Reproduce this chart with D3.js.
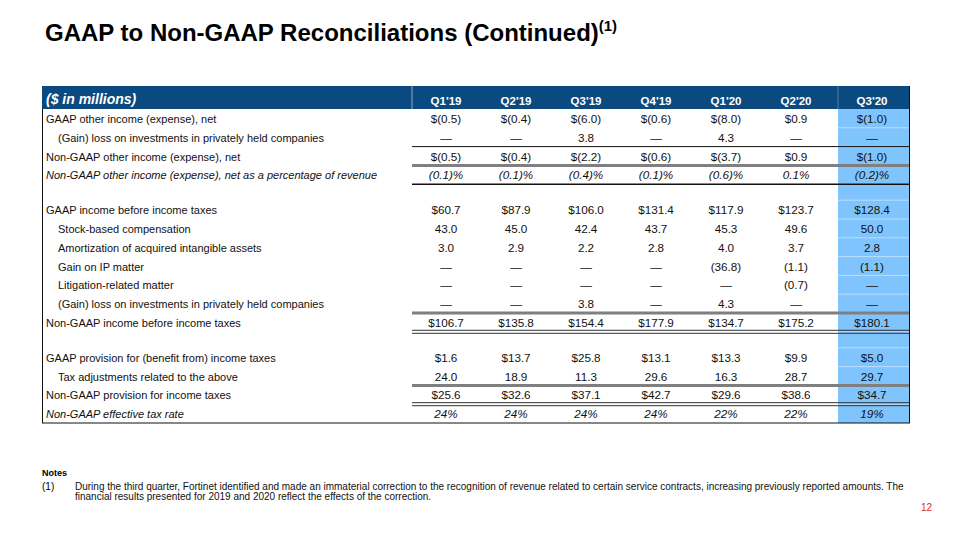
<!DOCTYPE html>
<html>
<head>
<meta charset="utf-8">
<script src="https://cdn.jsdelivr.net/npm/d3@7"></script>
<style>
  html, body { margin: 0; padding: 0; background: #fff; }
  svg { display: block; font-family: "Liberation Sans", Arial, sans-serif; }
</style>
</head>
<body>
<svg id="chart" width="960" height="540"></svg>
<script>
// ---------------- DATA ----------------
const quarters = ["Q1'19", "Q2'19", "Q3'19", "Q4'19", "Q1'20", "Q2'20", "Q3'20"];

const gaapOtherIncome     = [-0.5, -0.4, -6.0, -0.6, -8.0, 0.9, -1.0];
const privInvestments1    = [null, null, 3.8, null, 4.3, null, null];
const nonGaapOtherIncome  = [-0.5, -0.4, -2.2, -0.6, -3.7, 0.9, -1.0];
const otherIncomePctRev   = [-0.1, -0.1, -0.4, -0.1, -0.6, 0.1, -0.2];

const gaapIncomeBeforeTax = [60.7, 87.9, 106.0, 131.4, 117.9, 123.7, 128.4];
const stockComp           = [43.0, 45.0, 42.4, 43.7, 45.3, 49.6, 50.0];
const amortization        = [3.0, 2.9, 2.2, 2.8, 4.0, 3.7, 2.8];
const gainOnIP            = [null, null, null, null, -36.8, -1.1, -1.1];
const litigation          = [null, null, null, null, null, -0.7, null];
const privInvestments2    = [null, null, 3.8, null, 4.3, null, null];
const nonGaapIncomeBeforeTax = [106.7, 135.8, 154.4, 177.9, 134.7, 175.2, 180.1];

const gaapTaxProvision    = [1.6, 13.7, 25.8, 13.1, 13.3, 9.9, 5.0];
const taxAdjustments      = [24.0, 18.9, 11.3, 29.6, 16.3, 28.7, 29.7];
const nonGaapTaxProvision = [25.6, 32.6, 37.1, 42.7, 29.6, 38.6, 34.7];
const effectiveTaxRate    = [24, 24, 24, 24, 22, 22, 19];

const rowLabels = [
  "GAAP other income (expense), net",
  "(Gain) loss on investments in privately held companies",
  "Non-GAAP other income (expense), net",
  "Non-GAAP other income (expense), net as a percentage of revenue",
  "",
  "GAAP income before income taxes",
  "Stock-based compensation",
  "Amortization of acquired intangible assets",
  "Gain on IP matter",
  "Litigation-related matter",
  "(Gain) loss on investments in privately held companies",
  "Non-GAAP income before income taxes",
  "",
  "GAAP provision for (benefit from) income taxes",
  "Tax adjustments related to the above",
  "Non-GAAP provision for income taxes",
  "Non-GAAP effective tax rate"
];
const rowValues = [
  gaapOtherIncome, privInvestments1, nonGaapOtherIncome, otherIncomePctRev, null,
  gaapIncomeBeforeTax, stockComp, amortization, gainOnIP, litigation, privInvestments2, nonGaapIncomeBeforeTax, null,
  gaapTaxProvision, taxAdjustments, nonGaapTaxProvision, effectiveTaxRate
];
// formats: d = dollar, n = number, p = percent(1 dp), r = percent integer
const rowFormats = ["d","n","d","p",null,"d","n","n","n","n","n","d",null,"d","n","d","r"];
const rowIndent  = [0,1,0,0,0,0,1,1,1,1,1,0,0,0,1,0,0];
const rowItalic  = [0,0,0,1,0,0,0,0,0,0,0,0,0,0,0,0,1];
// rule below row: thin, gray, black, double
const rowRuleBelow = [null,"thin","gray","black",null,null,null,null,null,null,"gray","double",null,null,"gray","double",null];

const titleText = "GAAP to Non-GAAP Reconciliations (Continued)";
const unitsLabel = "($ in millions)";
const noteHeading = "Notes";
const noteMarker = "(1)";
const noteLines = [
  "During the third quarter, Fortinet identified and made an immaterial correction to the recognition of revenue related to certain service contracts, increasing previously reported amounts. The",
  "financial results presented for 2019 and 2020 reflect the effects of the correction."
];
const pageNumber = "12";

// ---------------- FORMAT ----------------
function fmt(v, f) {
  if (v == null) return "\u2014";
  if (f === "r") return v + "%";
  const a = Math.abs(v).toFixed(1);
  const core = v < 0 ? "(" + a + ")" : a;
  if (f === "d") return "$" + core;
  if (f === "p") return core + "%";
  return core;
}

// ---------------- LAYOUT ----------------
const svg = d3.select("#chart");
const navy = "#0b4a80", hiBlue = "#80c4fd";
const tableLeft = 42, tableRight = 910, labelRight = 412, hiLeft = 838;
const headerTop = 86, headerBottom = 109;
const rowH = 18.8, blankH = 16;

// row y-positions from cumulative heights
const rowTops = [];
let yy = headerBottom;
rowLabels.forEach((l, i) => { rowTops.push(yy); yy += rowValues[i] ? rowH : blankH; });
const tableBottom = yy;
const rowHeight = i => rowValues[i] ? rowH : blankH;

// column scale
const x = d3.scaleBand().domain(quarters.slice(0, 6)).range([411, 831]);
const colCenter = q => q === "Q3'20" ? 872 : x(q) + x.bandwidth() / 2;

// Title
const title = svg.append("text").attr("x", 45).attr("y", 41)
  .attr("font-size", 24).attr("font-weight", "bold").attr("fill", "#000");
title.append("tspan").text(titleText);
title.append("tspan").attr("font-size", 15).attr("dy", -10).text("(1)");

// Header
svg.append("rect").attr("x", tableLeft).attr("y", headerTop)
  .attr("width", tableRight - tableLeft).attr("height", headerBottom - headerTop).attr("fill", navy);
svg.append("line").attr("x1", labelRight).attr("x2", labelRight).attr("y1", headerTop).attr("y2", headerBottom)
  .attr("stroke", "#8fa9c4").attr("stroke-width", 1);
svg.append("line").attr("x1", hiLeft).attr("x2", hiLeft).attr("y1", headerTop).attr("y2", headerBottom)
  .attr("stroke", "#4d7aa6").attr("stroke-width", 1);
svg.append("text").attr("x", 46).attr("y", headerTop + 18)
  .attr("font-size", 14).attr("font-weight", "bold").attr("font-style", "italic").attr("fill", "#fff")
  .text(unitsLabel);
svg.selectAll("text.qh").data(quarters).join("text").attr("class", "qh")
  .attr("x", d => colCenter(d)).attr("y", headerTop + 18.5)
  .attr("text-anchor", "middle").attr("font-size", 11.5).attr("font-weight", "bold").attr("fill", "#fff")
  .text(d => d);

// Highlight column
svg.append("rect").attr("x", hiLeft).attr("y", headerBottom)
  .attr("width", tableRight - hiLeft).attr("height", tableBottom - headerBottom).attr("fill", hiBlue);
svg.selectAll("line.hisep").data(rowTops.slice(1)).join("line").attr("class", "hisep")
  .attr("x1", hiLeft).attr("x2", tableRight).attr("y1", d => d).attr("y2", d => d)
  .attr("stroke", "#ffffff").attr("stroke-opacity", 0.45).attr("stroke-width", 1);

// Row labels
rowLabels.forEach((lab, i) => {
  if (!lab) return;
  svg.append("text").attr("x", rowIndent[i] ? 58 : 46).attr("y", rowTops[i] + rowH / 2 + 4.5)
    .attr("font-size", 11).attr("fill", "#111")
    .attr("font-style", rowItalic[i] ? "italic" : "normal")
    .text(lab);
});

// Values
rowValues.forEach((vals, i) => {
  if (!vals) return;
  svg.selectAll("text.v" + i).data(vals).join("text").attr("class", "v" + i)
    .attr("x", (d, j) => colCenter(quarters[j])).attr("y", rowTops[i] + rowH / 2 + 4.5)
    .attr("text-anchor", "middle").attr("font-size", 11.7).attr("fill", "#111")
    .attr("font-style", rowItalic[i] ? "italic" : "normal")
    .text(d => fmt(d, rowFormats[i]));
});

// Rules
rowRuleBelow.forEach((r, i) => {
  if (!r) return;
  const y = rowTops[i] + rowHeight(i);
  const g = svg.append("g");
  if (r === "thin") {
    g.append("line").attr("x1", labelRight).attr("x2", tableRight).attr("y1", y).attr("y2", y)
      .attr("stroke", "#111").attr("stroke-width", 1);
  } else if (r === "gray") {
    g.append("line").attr("x1", labelRight).attr("x2", tableRight).attr("y1", y).attr("y2", y)
      .attr("stroke", "#7f7f7f").attr("stroke-width", 3);
  } else if (r === "black") {
    g.append("line").attr("x1", labelRight).attr("x2", tableRight).attr("y1", y).attr("y2", y)
      .attr("stroke", "#111").attr("stroke-width", 1.6);
  } else if (r === "double") {
    [-1.5, 1.5].forEach(o => g.append("line").attr("x1", labelRight).attr("x2", tableRight)
      .attr("y1", y + o).attr("y2", y + o).attr("stroke", "#333").attr("stroke-width", 1));
  }
});

// Borders
svg.append("line").attr("x1", tableLeft + 0.5).attr("x2", tableLeft + 0.5).attr("y1", headerBottom).attr("y2", tableBottom)
  .attr("stroke", "#111").attr("stroke-width", 1);
svg.append("line").attr("x1", tableRight - 0.5).attr("x2", tableRight - 0.5).attr("y1", headerTop).attr("y2", tableBottom)
  .attr("stroke", "#111").attr("stroke-width", 1);
svg.append("line").attr("x1", tableLeft).attr("x2", tableRight).attr("y1", tableBottom).attr("y2", tableBottom)
  .attr("stroke", "#111").attr("stroke-width", 1);

// Notes
svg.append("text").attr("x", 42).attr("y", 476).attr("font-size", 9).attr("font-weight", "bold").text(noteHeading);
svg.append("text").attr("x", 42).attr("y", 490).attr("font-size", 10).text(noteMarker);
noteLines.forEach((l, i) => {
  svg.append("text").attr("x", 75).attr("y", 490 + i * 10).attr("font-size", 10).attr("fill", "#111").text(l);
});
svg.append("text").attr("x", 932).attr("y", 511).attr("text-anchor", "end")
  .attr("font-size", 10).attr("fill", "#e3241b").text(pageNumber);
</script>
</body>
</html>
